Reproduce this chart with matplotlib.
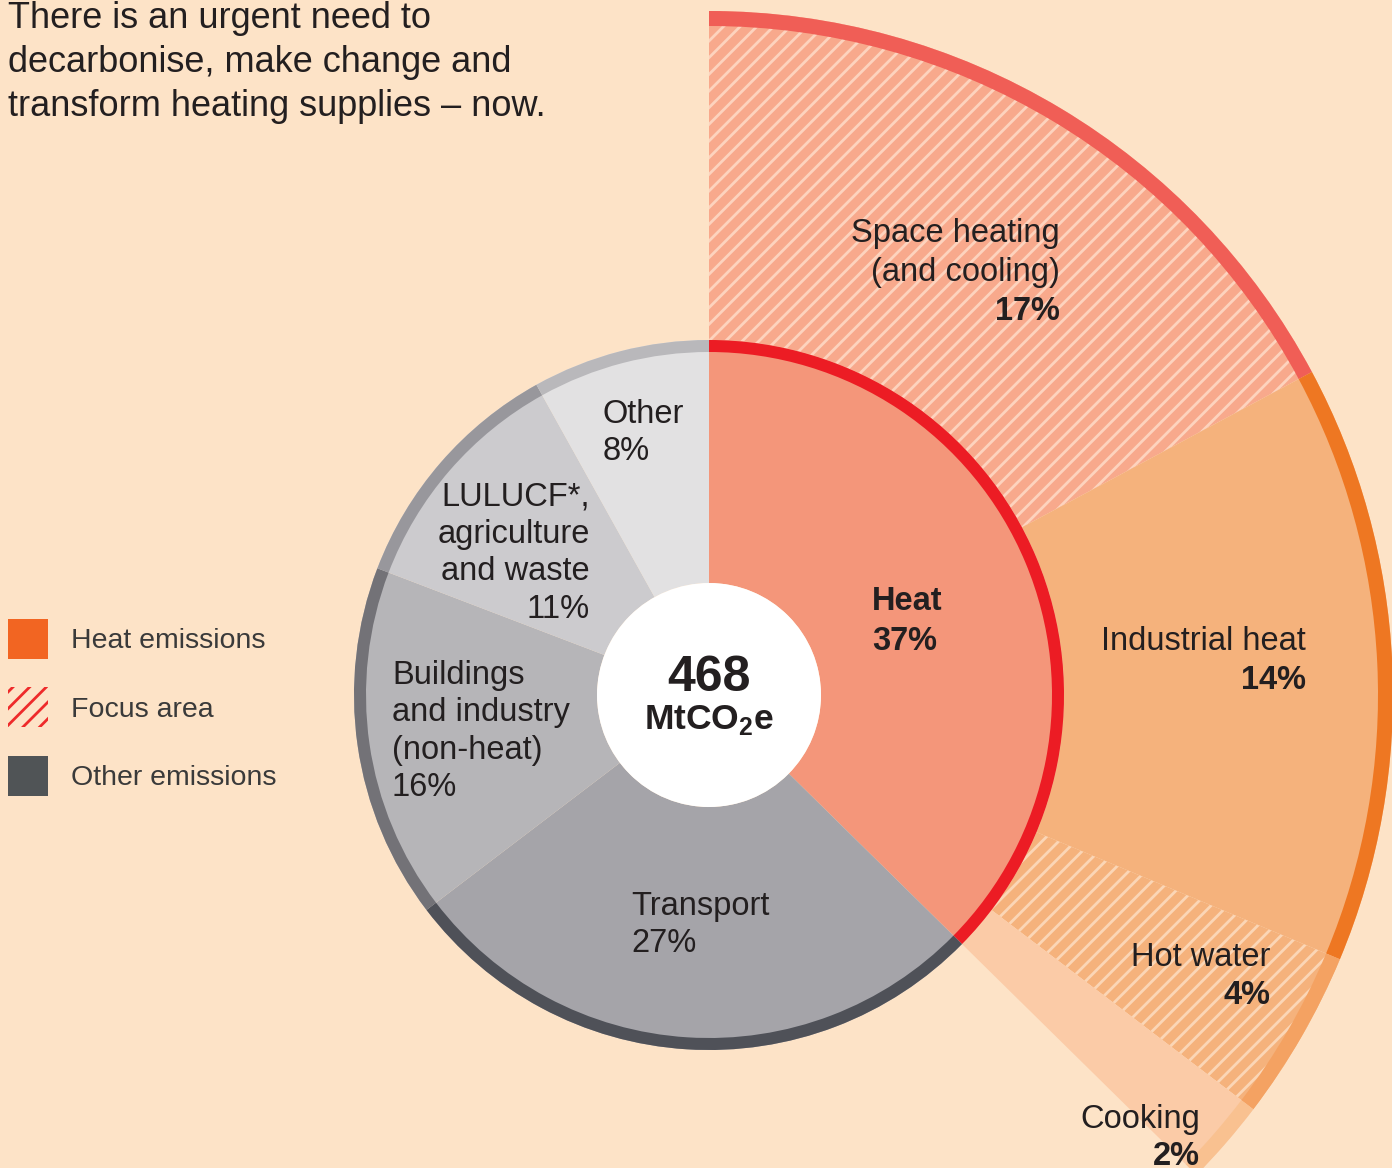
import matplotlib
matplotlib.use("Agg")
import matplotlib.pyplot as plt
from matplotlib.patches import Patch, Circle

# ---------------- data ----------------
inner_labels = ["Heat", "Transport", "Buildings\nand industry\n(non-heat)",
                "LULUCF*,\nagriculture\nand waste", "Other"]
inner_values = [37, 27, 16, 11, 8]
inner_fill = ["#f4967a", "#a5a4a9", "#b6b5b8", "#cccbce", "#e2e1e2"]
inner_band = ["#ec1c24", "#4f5158", "#737277", "#98979c", "#b9b8bb"]

heat_labels = ["Space heating\n(and cooling)", "Industrial heat", "Hot water", "Cooking"]
heat_values = [17, 14, 4, 2]
heat_fill = ["#f8a98c", "#f5b27c", "#f5b27c", "#fbcba7"]
heat_stripe = ["#fdd3be", None, "#fbd6b6", None]
heat_band = ["#f05e56", "#ee7722", "#f4a262", "#f9c190"]

legend_labels = ["Heat emissions", "Focus area", "Other emissions"]
title_lines = ["There is an urgent need to",
               "decarbonise, make change and",
               "transform heating supplies \u2013 now."]
total_value = "468"

# ---------------- style ----------------
W, H = 1392, 1168
BG = "#fde3c7"
TXT = "#231f20"
plt.rcParams["font.family"] = ["Liberation Sans", "DejaVu Sans"]
plt.rcParams["hatch.linewidth"] = 2.0
plt.rcParams["mathtext.fontset"] = "custom"
plt.rcParams["mathtext.rm"] = "Liberation Sans:bold"
plt.rcParams["mathtext.bf"] = "Liberation Sans:bold"

fig = plt.figure(figsize=(W / 100, H / 100), dpi=100, facecolor=BG)
ax = fig.add_axes([0, 0, 1, 1])
ax.set_facecolor(BG)

cx, cy = 709, H - 695
R_pie, R_hole, band_in = 355, 112, 12
R_out, band_out = 684, 15

def Y(p):
    return H - p

# outer ring (heat breakdown), padded with remainder so angles follow the full total
rest = sum(inner_values) - sum(heat_values)
outer_vals = heat_values + [rest]
wedges, _ = ax.pie(outer_vals, radius=R_out, center=(cx, cy), startangle=90,
                   counterclock=False, normalize=True,
                   colors=heat_fill + ["none"],
                   hatch=["//" if s else "" for s in heat_stripe] + [""],
                   wedgeprops=dict(width=R_out - R_pie, linewidth=0))
for w, s in zip(wedges, heat_stripe + [None]):
    w.set_linewidth(0)
    w.set_edgecolor(s if s else "none")
wedges[-1].set_visible(False)

bands, _ = ax.pie(outer_vals, radius=R_out, center=(cx, cy), startangle=90,
                  counterclock=False, normalize=True,
                  colors=heat_band + ["none"],
                  wedgeprops=dict(width=band_out, linewidth=0))
bands[-1].set_visible(False)

# inner pie
ax.pie(inner_values, radius=R_pie, center=(cx, cy), startangle=90,
       counterclock=False, normalize=True, colors=inner_fill,
       wedgeprops=dict(width=R_pie - R_hole, linewidth=0))
ax.pie(inner_values, radius=R_pie, center=(cx, cy), startangle=90,
       counterclock=False, normalize=True, colors=inner_band,
       wedgeprops=dict(width=band_in, linewidth=0))
ax.add_patch(Circle((cx, cy), R_hole, facecolor="white", edgecolor="none", zorder=3))

ax.set_xlim(0, W)
ax.set_ylim(0, H)
ax.set_aspect("equal")
ax.axis("off")

# ---------------- texts ----------------
for i, line in enumerate(title_lines):
    ax.text(8, Y(28 + 44 * i), line, fontsize=26, color=TXT, va="baseline", ha="left")

lab_fs = 23.5
def lbl(x, ybase, name, pct, ha, bold_name=False, bold_pct=False, sp=37.5):
    lines = name.split("\n")
    for k, ln in enumerate(lines):
        ax.text(x, Y(ybase + sp * k), ln, fontsize=lab_fs, color=TXT, ha=ha,
                va="baseline", fontweight="bold" if bold_name else "normal", zorder=5)
    ax.text(x, Y(ybase + sp * len(lines)), f"{pct}%", fontsize=lab_fs, color=TXT, ha=ha,
            va="baseline", fontweight="bold" if bold_pct else "normal", zorder=5)

# inner labels
lbl(872, 610, inner_labels[0], inner_values[0], "left", True, True, sp=40)
lbl(631, 915, inner_labels[1], inner_values[1], "left")
lbl(392, 684, inner_labels[2], inner_values[2], "left")
lbl(590, 505, inner_labels[3], inner_values[3], "right")
lbl(603, 423, inner_labels[4], inner_values[4], "left")

# outer labels
lbl(1060, 242, heat_labels[0], heat_values[0], "right", False, True, sp=39)
lbl(1306, 650, heat_labels[1], heat_values[1], "right", False, True, sp=39)
lbl(1270, 966, heat_labels[2], heat_values[2], "right", False, True, sp=38)
lbl(1200, 1128, heat_labels[3], heat_values[3], "right", False, True, sp=37)

# center
ax.text(cx, Y(691), total_value, fontsize=36, fontweight="bold", color=TXT,
        ha="center", va="baseline", zorder=5)
ax.text(cx, Y(729), r"MtCO$_{2}$e", fontsize=25.5, fontweight="bold", color=TXT,
        ha="center", va="baseline", zorder=5)

# legend
handles = [Patch(facecolor="#f26522", edgecolor="none"),
           Patch(facecolor=BG, edgecolor="#ee2a2a", hatch="//", linewidth=0),
           Patch(facecolor="#505456", edgecolor="none")]
leg = ax.legend(handles, legend_labels, loc="upper left",
                bbox_to_anchor=(8 / W, 1 - 619 / H), bbox_transform=fig.transFigure,
                frameon=False, fontsize=20.5, handlelength=1.4, handleheight=1.78,
                handletextpad=0.8, labelspacing=1.0, borderpad=0, borderaxespad=0,
                labelcolor="#3a3a3a")

fig.savefig("out.png", dpi=100, facecolor=BG)
